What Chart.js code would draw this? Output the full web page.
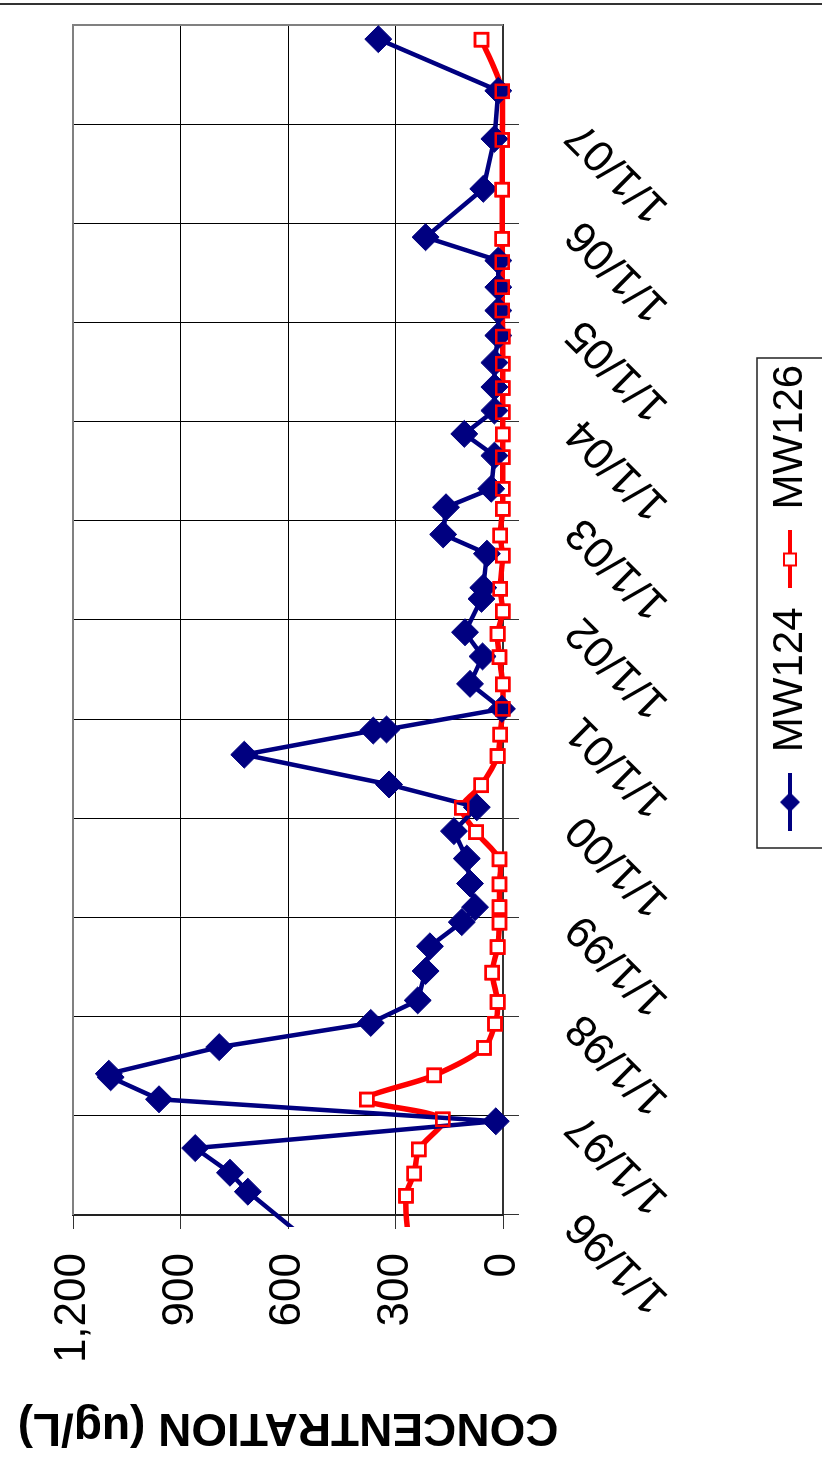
<!DOCTYPE html>
<html lang="en">
<head>
  <meta charset="UTF-8" />
  <title>MW124 / MW126 Concentration</title>
  <script src="https://cdn.jsdelivr.net/npm/chart.js"></script>
  <style>
    html, body { margin: 0; padding: 0; background: #fff; overflow: hidden; }
    body { width: 822px; height: 1458px; position: relative; }
    /* chart is laid out landscape, then turned a quarter turn onto the page */
    #wrap {
      position: absolute; left: 0; top: 0;
      width: 1458px; height: 830px;
      transform-origin: 0 0;
      transform: translateY(1458px) rotate(-90deg);
    }
    #rule { position: absolute; left: 0; top: 3px; width: 822px; height: 2px; background: #333; }
  </style>
</head>
<body>
  <div id="rule"></div>
  <div id="wrap"><canvas id="conc" width="1458" height="830"></canvas></div>

  <script>
    // ---- sampling data ----
    const mw124Dates = [
      '1995-08-25', '1996-03-27', '1996-06-05', '1996-09-04', '1996-12-12',
      '1997-03-03', '1997-05-23', '1997-06-05', '1997-09-11', '1997-12-09',
      '1998-03-02', '1998-06-18', '1998-09-17', '1998-12-15', '1999-02-08',
      '1999-05-06', '1999-08-06', '1999-11-15', '2000-02-11', '2000-05-05',
      '2000-08-23', '2000-11-20', '2000-11-24', '2001-02-08', '2001-05-11',
      '2001-08-20', '2001-11-17', '2002-03-20', '2002-04-30', '2002-09-02',
      '2002-11-12', '2003-02-20', '2003-04-29', '2003-08-29', '2003-11-17',
      '2004-02-11', '2004-05-08', '2004-08-06', '2004-11-14', '2005-02-14',
      '2005-05-11', '2005-08-17', '2005-11-11', '2006-05-08', '2006-11-08',
      '2007-05-04', '2007-11-10'
    ];
    const mw124Conc = [
      513, 712, 762, 859, 20,
      960, 1095, 1100, 792, 369,
      238, 216, 204, 115, 78,
      92, 101, 137, 73, 318,
      722, 362, 325, 3, 92,
      57, 106, 60, 55, 45,
      167, 159, 33, 24, 108,
      24, 24, 24, 13, 13,
      13, 13, 216, 55, 24,
      13, 348
    ];

    const mw126Dates = [
      '1995-08-25', '1996-03-12', '1996-06-02', '1996-08-30', '1996-12-19',
      '1997-03-02', '1997-05-30', '1997-09-08', '1997-12-06', '1998-02-24',
      '1998-06-12', '1998-09-14', '1998-12-13', '1999-02-08', '1999-05-03',
      '1999-08-03', '1999-11-11', '2000-02-09', '2000-05-02', '2000-08-18',
      '2000-11-05', '2001-02-08', '2001-05-09', '2001-08-17', '2001-11-11',
      '2002-02-02', '2002-04-26', '2002-08-26', '2002-11-08', '2003-02-14',
      '2003-04-29', '2003-08-23', '2003-11-15', '2004-02-05', '2004-05-04',
      '2004-08-02', '2004-11-10', '2005-02-14', '2005-05-11', '2005-08-11',
      '2005-11-05', '2006-05-05', '2006-11-04', '2007-05-02', '2007-11-08'
    ];
    const mw126Conc = [
      262, 271, 248, 235, 168,
      380, 192, 53, 22, 15,
      30, 15, 10, 10, 10,
      10, 75, 115, 61, 15,
      8, 1, 1, 10, 15,
      1, 8, 1, 8, 1,
      1, 1, 1, 1, 1,
      1, 1, 2, 2, 2,
      2, 2, 2, 2, 60
    ];

    const yearTicks  = [1996, 1997, 1998, 1999, 2000, 2001, 2002, 2003, 2004, 2005, 2006, 2007];
    const yearLabels = ['1/1/96', '1/1/97', '1/1/98', '1/1/99', '1/1/00', '1/1/01',
                        '1/1/02', '1/1/03', '1/1/04', '1/1/05', '1/1/06', '1/1/07'];
    const concTicks  = { min: 0, max: 1200, step: 300 };

    const NAVY = '#000080';
    const RED  = '#ff0000';

    // date string -> fractional year, so the x axis can stay linear
    function toYear(s) {
      const [y, m, d] = s.split('-').map(Number);
      const start = Date.UTC(y, 0, 1);
      const end = Date.UTC(y + 1, 0, 1);
      return y + (Date.UTC(y, m - 1, d) - start) / (end - start);
    }
    const toPoints = (dates, vals) => dates.map((d, i) => ({ x: toYear(d), y: vals[i] }));

    // little line+marker swatches for the legend
    function swatch(color, marker) {
      const c = document.createElement('canvas');
      c.width = 58; c.height = 24;
      const g = c.getContext('2d');
      g.strokeStyle = color;
      g.lineWidth = 4;
      g.beginPath(); g.moveTo(0, 12); g.lineTo(58, 12); g.stroke();
      if (marker === 'diamond') {
        g.fillStyle = color;
        g.beginPath();
        g.moveTo(29, 2); g.lineTo(39, 12); g.lineTo(29, 22); g.lineTo(19, 12);
        g.closePath(); g.fill();
      } else {
        g.fillStyle = '#fff';
        g.lineWidth = 2;
        g.fillRect(23, 6, 12, 12);
        g.strokeRect(23, 6, 12, 12);
      }
      return c;
    }

    // drawn border of the legend; items are centred in a slightly wider band
    const legendBox = { left: 610, right: 1100, top: 757 };
    const legendBand = { left: 596, right: 1124 };

    // gray frame on the two open sides of the plot, box around the legend
    const frames = {
      id: 'frames',
      afterLayout(chart) {
        chart.legend.left = legendBand.left;
        chart.legend.right = legendBand.right;
      },
      beforeDatasetsDraw(chart) {
        const { ctx, chartArea: a } = chart;
        ctx.save();
        ctx.strokeStyle = '#808080';
        ctx.lineWidth = 2;
        ctx.beginPath();
        ctx.moveTo(a.left, a.top); ctx.lineTo(a.right, a.top); ctx.lineTo(a.right, a.bottom);
        ctx.stroke();
        ctx.restore();
      },
      afterDraw(chart) {
        const ctx = chart.ctx;
        ctx.save();
        ctx.strokeStyle = '#222';
        ctx.lineWidth = 1.5;
        ctx.strokeRect(legendBox.left, legendBox.top,
                       legendBox.right - legendBox.left, chart.height - legendBox.top + 10);
        ctx.restore();
      }
    };

    Chart.defaults.font.family = '"Liberation Sans", Arial, sans-serif';
    Chart.defaults.color = '#000';

    const clipArea = { left: 12, top: 15, right: 15, bottom: 15 };
    const mw126Points = toPoints(mw126Dates, mw126Conc);

    new Chart(document.getElementById('conc'), {
      type: 'line',
      data: {
        datasets: [
          {
            label: 'MW126',
            data: mw126Points,
            borderColor: RED,
            borderWidth: 5.5,
            tension: 0.3,
            pointStyle: 'rect',
            pointRadius: 9.2,
            pointBackgroundColor: '#fff',
            pointBorderColor: RED,
            pointBorderWidth: 2.5,
            clip: clipArea,
            order: 2
          },
          {
            label: 'MW124',
            data: toPoints(mw124Dates, mw124Conc),
            borderColor: NAVY,
            borderWidth: 4.5,
            borderJoinStyle: 'round',
            tension: 0,
            pointStyle: 'rectRot',
            pointRadius: 13.5,
            pointBackgroundColor: NAVY,
            pointBorderColor: NAVY,
            pointBorderWidth: 1,
            clip: clipArea,
            order: 1
          },
          {
            // MW126 marker outlines again, on top of the MW124 line
            label: '',
            data: mw126Points,
            showLine: false,
            pointStyle: 'rect',
            pointRadius: 9.2,
            pointBackgroundColor: 'rgba(0,0,0,0)',
            pointBorderColor: RED,
            pointBorderWidth: 2.5,
            clip: clipArea,
            order: 0
          }
        ]
      },
      options: {
        responsive: false,
        animation: false,
        events: [],
        layout: { padding: { left: 0, right: 25, top: 73, bottom: 9 } },
        scales: {
          x: {
            type: 'linear',
            min: 1996,
            max: 2008,
            afterBuildTicks: s => { s.ticks = yearTicks.map(v => ({ value: v })); },
            afterFit: s => { s.height = 247; },
            grid: { color: '#000', lineWidth: 1, tickLength: 16, tickColor: '#333' },
            border: { color: '#333', width: 2 },
            ticks: {
              autoSkip: false,
              minRotation: 45,
              maxRotation: 45,
              padding: 37,
              labelOffset: -4,
              font: { size: 44 },
              callback: (v, i) => yearLabels[i]
            }
          },
          y: {
            min: concTicks.min,
            max: concTicks.max,
            afterFit: s => { s.width = 243; },
            grid: { color: '#000', lineWidth: 1, tickLength: 14, tickColor: '#333' },
            border: { color: '#222', width: 2 },
            ticks: { stepSize: concTicks.step, padding: 24, font: { size: 44 } },
            title: {
              display: true,
              text: 'CONCENTRATION (ug/L)',
              font: { size: 46, weight: 'bold' },
              padding: { top: 4, bottom: 0 }
            }
          }
        },
        plugins: {
          tooltip: { enabled: false },
          legend: {
            position: 'bottom',
            fullSize: false,
            labels: {
              usePointStyle: true,
              pointStyleWidth: 58,
              padding: 19,
              font: { size: 42 },
              generateLabels: () => [
                { text: 'MW124', pointStyle: swatch(NAVY, 'diamond'), datasetIndex: 1, hidden: false, lineWidth: 0 },
                { text: 'MW126', pointStyle: swatch(RED, 'square'), datasetIndex: 0, hidden: false, lineWidth: 0 }
              ]
            }
          }
        }
      },
      plugins: [frames]
    });
  </script>
</body>
</html>
